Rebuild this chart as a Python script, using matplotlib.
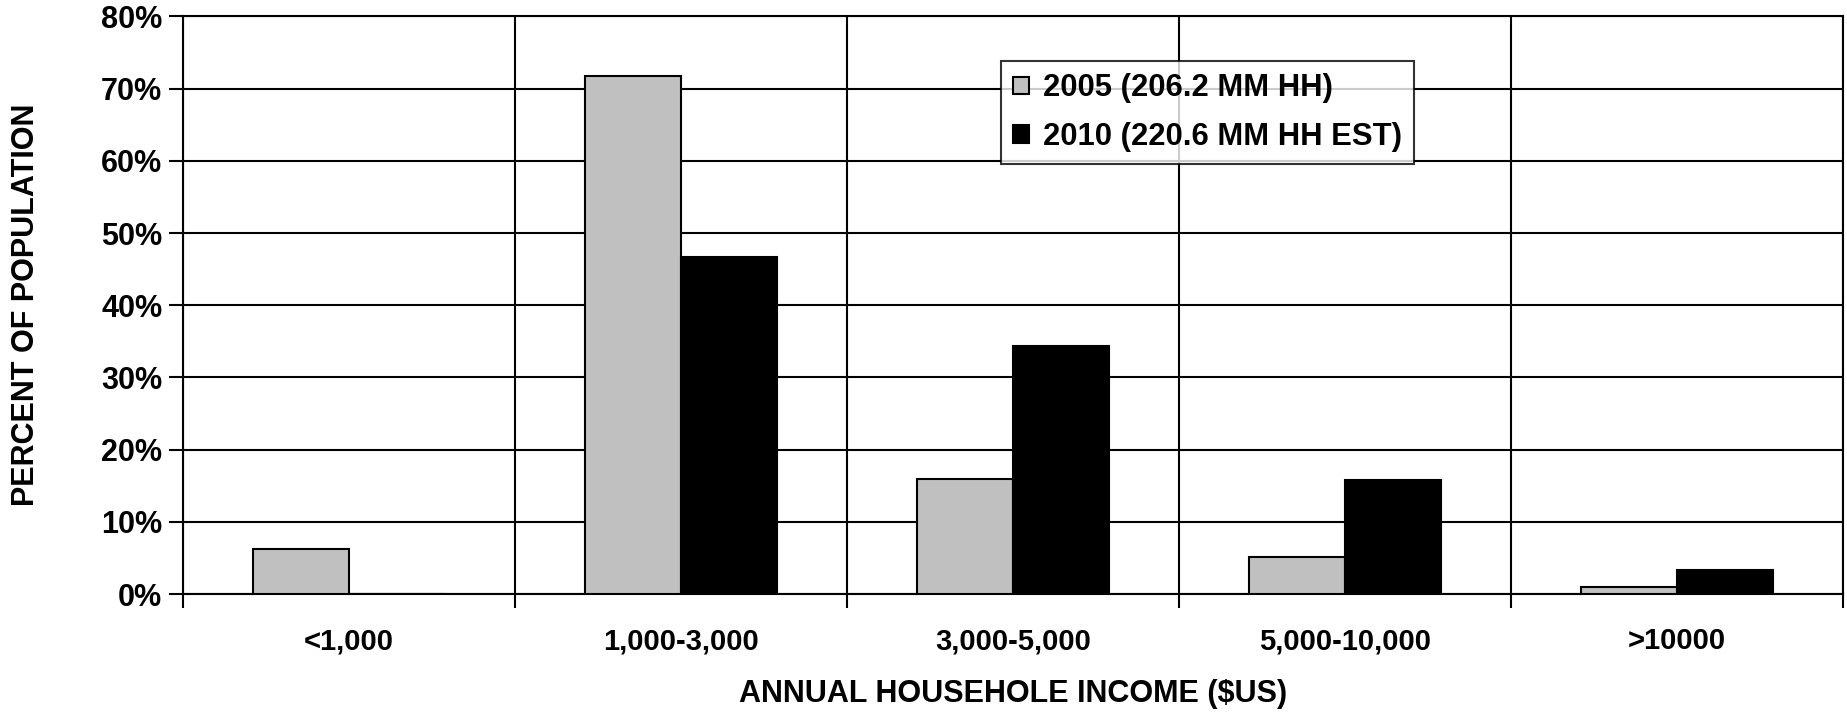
import numpy as np
import matplotlib.pyplot as plt
from matplotlib.ticker import PercentFormatter

# Household income distribution by bracket, two survey years
INCOME_BRACKETS = ['<1,000', '1,000-3,000', '3,000-5,000', '5,000-10,000', '>10000']
PCT_2005 = [6.2, 71.8, 16.0, 5.2, 1.0]
PCT_2010 = [0.0, 46.7, 34.4, 15.8, 3.4]
LABEL_2005 = '2005 (206.2 MM HH)'
LABEL_2010 = '2010 (220.6 MM HH EST)'

plt.rcParams['font.family'] = ['Liberation Sans', 'DejaVu Sans']
plt.rcParams['font.weight'] = 'bold'

fig = plt.figure(figsize=(18.47, 7.14), dpi=100)
ax = fig.add_axes([0.0991, 0.168, 0.8987, 0.8089])

x = np.arange(len(INCOME_BRACKETS)) + 0.5
w = 0.29
lw = 1.5

ax.bar(x - w / 2, PCT_2005, width=w, color='#c0c0c0', edgecolor='black',
       linewidth=lw, label=LABEL_2005, zorder=3)
ax.bar(x + w / 2, PCT_2010, width=w, color='black', edgecolor='black',
       linewidth=lw, label=LABEL_2010, zorder=3)

ax.set_xlim(0, len(INCOME_BRACKETS))
ax.set_ylim(0, 80)

# category labels in the middle, boundary lines on the minor ticks
ax.set_xticks(x)
ax.set_xticklabels(INCOME_BRACKETS)
ax.set_xticks(np.arange(len(INCOME_BRACKETS) + 1), minor=True)
ax.tick_params(axis='x', which='major', length=0, pad=24, labelsize=21)
ax.tick_params(axis='x', which='minor', length=10, width=lw, direction='out')
ax.grid(axis='x', which='minor', color='black', linewidth=lw, zorder=0)

ax.set_yticks(np.arange(0, 81, 10))
ax.yaxis.set_major_formatter(PercentFormatter(decimals=0))
ax.tick_params(axis='y', length=10, width=lw, direction='out', pad=5, labelsize=22)
ax.grid(axis='y', which='major', color='black', linewidth=lw, zorder=0)
ax.set_axisbelow(True)

for sp in ax.spines.values():
    sp.set_linewidth(lw)

ax.set_xlabel('ANNUAL HOUSEHOLE INCOME ($US)', fontsize=22, fontweight='bold',
              labelpad=17)
ax.set_ylabel('PERCENT OF POPULATION', fontsize=22, fontweight='bold',
              labelpad=43)

leg = ax.legend(loc='upper left', bbox_to_anchor=(0.4928, 0.923),
                borderaxespad=0, fontsize=22.3, frameon=True, fancybox=False,
                handlelength=0.5, handleheight=0.5, handletextpad=0.45,
                labelspacing=0.6, borderpad=0.4)
leg.get_frame().set_edgecolor('black')
leg.get_frame().set_linewidth(lw)
leg.set_zorder(5)

fig.savefig('out.png', dpi=100)
